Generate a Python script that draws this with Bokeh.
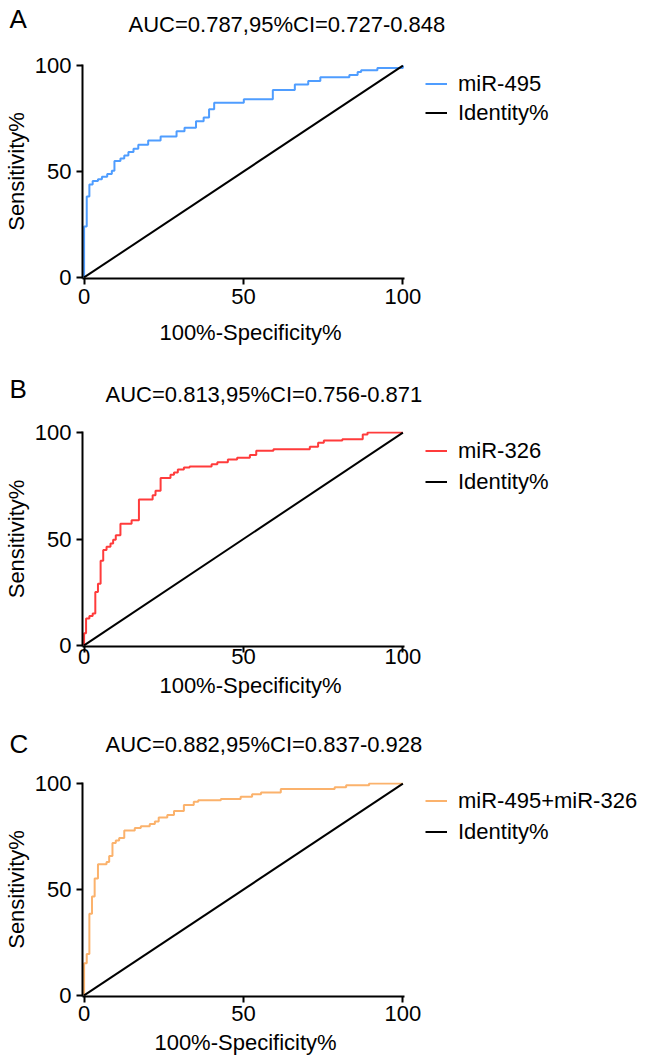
from bokeh.plotting import figure
from bokeh.models import Range1d, FixedTicker, Label, Legend, LegendItem
from bokeh.layouts import column
from bokeh.embed import file_html
from bokeh.resources import INLINE

FONT = "Liberation Sans"
W = 646

# ---- data (100%-Specificity%, Sensitivity%) step vertices ----
a_fpr = [0, 0, 0.83, 1.66, 2.69, 4.35, 5.59, 7.25, 8.70, 9.52, 11.4, 12.6, 13.9, 15.5, 17.0,
         20.1, 24.0, 29.0, 31.5, 35.1, 37.5, 39.2, 40.8, 50.1, 59.2, 66.1, 70.3, 74.1, 83.2,
         85.8, 86.9, 92.0, 100]
a_tpr = [0, 24.1, 38.2, 43.9, 45.5, 46.4, 47.5, 48.8, 50.3, 55.0, 56.1, 57.6, 59.2, 60.7, 62.6,
         64.6, 66.5, 69.0, 70.6, 73.7, 75.5, 79.4, 82.4, 84.1, 88.5, 91.1, 92.7, 94.5, 95.5,
         97.0, 97.8, 98.9, 100]

b_fpr = [0, 0, 0.62, 1.66, 2.69, 3.52, 4.35, 5.18, 6.0, 7.04, 8.28, 9.11, 9.94, 11.4, 14.9,
         17.2, 21.5, 22.4, 24.0, 27.1, 28.2, 29.4, 31.3, 33.1, 40.0, 41.8, 45.1, 48.0, 52.0,
         54.0, 59.4, 70.8, 73.4, 75.2, 81.0, 87.4, 88.9, 100]
b_tpr = [0, 5.7, 12.7, 13.8, 15.0, 25.1, 29.0, 39.8, 44.8, 46.4, 47.9, 49.6, 51.8, 57.2, 58.8,
         68.5, 70.5, 72.7, 78.6, 80.2, 81.2, 82.6, 83.6, 84.0, 85.1, 86.0, 87.3, 88.2, 89.5,
         91.5, 92.2, 93.3, 95.2, 96.3, 96.9, 99.1, 100, 100]

c_fpr = [0, 0, 0.83, 1.66, 2.48, 3.31, 4.35, 7.04, 7.87, 8.90, 9.94, 11.0, 12.6, 15.9, 17.8,
         20.6, 22.2, 23.4, 26.1, 28.2, 31.3, 34.4, 35.8, 42.9, 49.1, 52.7, 55.5, 61.7, 78.6,
         82.2, 89.4, 100]
c_tpr = [0, 15.2, 19.6, 38.6, 46.7, 55.2, 61.9, 63.0, 65.8, 72.0, 73.1, 74.3, 77.8, 79.0, 79.8,
         80.9, 82.1, 84.0, 85.2, 87.1, 89.9, 91.4, 92.1, 92.7, 93.8, 94.9, 95.8, 97.4, 98.3,
         99.2, 100, 100]

identity_x = [0, 100]
identity_y = [0, 100]

ticks = [0, 50, 100]
panel_letters = ["A", "B", "C"]
auc_texts = ["AUC=0.787,95%CI=0.727-0.848",
             "AUC=0.813,95%CI=0.756-0.871",
             "AUC=0.882,95%CI=0.837-0.928"]
series_names = ["miR-495", "miR-326", "miR-495+miR-326"]
colors = ["#4f9dff", "#ff3b3b", "#fbb26c"]
x_label = "100%-Specificity%"
y_label = "Sensitivity%"
identity_name = "Identity%"

FRAME_LEFT = 82
AXIS_END_PX = 404
PAD = 0.5
SCALE = (AXIS_END_PX - FRAME_LEFT) / (100 + 2 * PAD)   # px per unit
X_END = -PAD + (W - FRAME_LEFT) / SCALE
MID = 0.35   # baseline sits this many font sizes below a "middle" anchor


def strip(height, items):
    """A text strip: items are (kind, idx, x, baseline_y) in pixels of this strip."""
    h = figure(width=W, height=height, output_backend="svg", toolbar_location=None,
               x_range=Range1d(0, W), y_range=Range1d(height, 0),
               x_axis_type=None, y_axis_type=None, min_border=0, frame_align=False)
    h.outline_line_color = None
    h.grid.visible = False
    for kind, idx, x, base in items:
        if kind == "letter":
            size = 26
            h.add_layout(Label(x=x, y=base - MID * size, text=panel_letters[idx],
                               text_font=FONT, text_font_size=f"{size}px",
                               text_color="black", text_baseline="middle"))
        elif kind == "auc":
            size = 22
            h.add_layout(Label(x=x, y=base - MID * size, text=auc_texts[idx],
                               text_font=FONT, text_font_size=f"{size}px",
                               text_color="black", text_baseline="middle"))
        else:
            size = 22
            h.add_layout(Label(x=x, y=base - MID * size, text=x_label, text_font=FONT,
                               text_font_size=f"{size}px", text_color="black",
                               text_align="center", text_baseline="middle"))
    return h


def panel(fpr, tpr, idx, height, top, frame_h, leg_vy, leg_spacing, tick_standoff):
    bottom = height - top - frame_h
    p = figure(width=W, height=height, output_backend="svg", toolbar_location=None,
               x_range=Range1d(-PAD, X_END), y_range=Range1d(-PAD, 100 + PAD),
               min_border_left=FRAME_LEFT, min_border_right=0, min_border_top=top,
               min_border_bottom=bottom, frame_align=False)
    p.outline_line_color = None
    p.xgrid.visible = False
    p.ygrid.visible = False

    for ax in (p.xaxis[0], p.yaxis[0]):
        ax.ticker = FixedTicker(ticks=ticks)
        ax.bounds = (-PAD, 100 + PAD)
        ax.axis_line_width = 2
        ax.axis_line_color = "black"
        ax.major_tick_line_width = 2
        ax.major_tick_line_color = "black"
        ax.major_tick_in = 0
        ax.major_tick_out = 6
        ax.minor_tick_line_color = None
        ax.major_label_text_font = FONT
        ax.major_label_text_font_size = "22px"
        ax.major_label_text_color = "black"
        ax.axis_label_text_font = FONT
        ax.axis_label_text_font_size = "22px"
        ax.axis_label_text_font_style = "normal"
        ax.axis_label_text_color = "black"
    p.yaxis.axis_label = y_label
    p.xaxis.major_label_standoff = tick_standoff
    p.yaxis.major_label_standoff = 5
    p.yaxis.axis_label_standoff = 3

    roc = p.step(fpr, tpr, mode="after", line_color=colors[idx], line_width=2)
    ident = p.line(identity_x, identity_y, line_color="black", line_width=2)

    legend = Legend(items=[LegendItem(label=series_names[idx], renderers=[roc]),
                           LegendItem(label=identity_name, renderers=[ident])],
                    location=(343, leg_vy), orientation="vertical",
                    padding=0, margin=0, spacing=leg_spacing,
                    glyph_width=22, glyph_height=25, label_height=25,
                    label_standoff=11, label_text_font=FONT,
                    label_text_font_size="22px", label_text_color="black",
                    border_line_color=None, background_fill_alpha=0)
    p.add_layout(legend, "center")
    return p


s0 = strip(40, [("letter", 0, 9, 28), ("auc", 0, 128, 32)])
pa = panel(a_fpr, a_tpr, 0, height=278, top=24, frame_h=214, leg_vy=152.5, leg_spacing=3,
           tick_standoff=4)
s1 = strip(90, [("xlabel", 0, 250, 22), ("letter", 1, 9, 80), ("auc", 1, 105, 84)])
pb = panel(b_fpr, b_tpr, 1, height=265, top=23, frame_h=215, leg_vy=151.5, leg_spacing=5,
           tick_standoff=-4)
s2 = strip(87, [("xlabel", 1, 250, 20), ("letter", 2, 9, 80), ("auc", 2, 105, 79)])
pc = panel(c_fpr, c_tpr, 2, height=270, top=22, frame_h=214, leg_vy=151.5, leg_spacing=5,
           tick_standoff=3)
s3 = strip(33, [("xlabel", 2, 245, 20)])

layout = column(s0, pa, s1, pb, s2, pc, s3, spacing=0)
open("out.html", "w").write(file_html(layout, INLINE))
